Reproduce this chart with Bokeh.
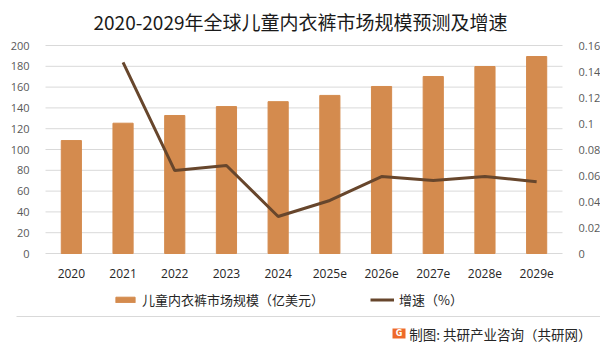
from bokeh.plotting import figure
from bokeh.models import (Range1d, LinearAxis, Legend, LegendItem, Label, BoxAnnotation,
                          CustomJSTickFormatter, FixedTicker)
from bokeh.embed import file_html
from bokeh.resources import INLINE

years = ["2020", "2021", "2022", "2023", "2024", "2025e", "2026e", "2027e", "2028e", "2029e"]
market_size = [108.6, 125.3, 132.7, 141.3, 146.0, 152.0, 160.6, 170.2, 179.8, 189.4]
growth_years = ["2021", "2022", "2023", "2024", "2025e", "2026e", "2027e", "2028e", "2029e"]
growth_rate = [0.147, 0.0638, 0.0677, 0.0285, 0.0408, 0.0592, 0.0562, 0.0592, 0.0552]
left_ticks = [0, 20, 40, 60, 80, 100, 120, 140, 160, 180, 200]
right_ticks = [0, 0.02, 0.04, 0.06, 0.08, 0.1, 0.12, 0.14, 0.16]

title_text = "2020-2029年全球儿童内衣裤市场规模预测及增速"
bar_label = "儿童内衣裤市场规模（亿美元）"
line_label = "增速（%）"
footer_text = "制图: 共研产业咨询（共研网）"

BAR = "#D48B4E"
LINE = "#67462C"
TXT = "#595959"
CJK = "Noto Sans CJK SC"

W, H = 600, 346
PL, PR, PT, PB = 45, 562, 45, 253          # plot-area box in pixels
n = len(years)
cat_px = (PR - PL) / n
y_max, g_max = left_ticks[-1], right_ticks[-1]
py = (PB - PT) / y_max
gy = (PB - PT) / g_max

xpos = {y: i for i, y in enumerate(years)}
bar_x = [xpos[y] for y in years]
line_x = [xpos[y] for y in growth_years]

p = figure(width=W, height=H,
           x_range=Range1d(-0.5 - PL / cat_px, n - 0.5 + (W - PR) / cat_px),
           y_range=Range1d(-(H - PB) / py, y_max + PT / py),
           output_backend="svg", toolbar_location=None,
           min_border=0, min_border_left=0, min_border_right=0,
           min_border_top=0, min_border_bottom=0, x_axis_type=None, y_axis_type=None)
p.outline_line_color = None
p.background_fill_color = "white"
p.border_fill_color = "white"
p.grid.visible = False
p.extra_y_ranges = {"g": Range1d(-(H - PB) / gy, g_max + PT / gy)}

# grid lines across the category span only
p.segment(x0=[-0.5] * len(left_ticks), x1=[n - 0.5] * len(left_ticks),
          y0=left_ticks, y1=left_ticks, line_color="#D9D9D9", line_width=1)

bars = p.vbar(x=bar_x, top=market_size, width=0.39, color=BAR)
line = p.line(x=line_x, y=growth_rate, y_range_name="g", line_color=LINE, line_width=3)

xa = LinearAxis(ticker=FixedTicker(ticks=bar_x), fixed_location=0,
                major_label_overrides={i: y for i, y in enumerate(years)})
la = LinearAxis(ticker=FixedTicker(ticks=left_ticks), fixed_location=-0.5)
ra = LinearAxis(y_range_name="g", ticker=FixedTicker(ticks=right_ticks), fixed_location=n - 0.5,
                formatter=CustomJSTickFormatter(code="return String(parseFloat(tick.toFixed(2)));"))
p.add_layout(xa, "below")
p.add_layout(la, "left")
p.add_layout(ra, "right")

for ax in [xa, la, ra]:
    ax.axis_line_color = None
    ax.major_tick_line_color = None
    ax.minor_tick_line_color = None
    ax.major_label_text_color = TXT
    ax.major_label_text_font = "Open Sans"
    ax.major_label_text_font_size = "11px"
    ax.major_label_standoff = 10
xa.major_label_text_font_size = "12px"
xa.major_label_text_color = "#262626"
xa.major_label_standoff = 9

legend = Legend(items=[LegendItem(label=bar_label, renderers=[bars]),
                       LegendItem(label=line_label, renderers=[line])],
                orientation="horizontal", location=(113, 37),
                glyph_width=24, glyph_height=7, spacing=46, padding=0, margin=0,
                label_text_font=CJK, label_text_font_size="13px", label_text_color="#262626",
                background_fill_alpha=0, border_line_color=None, label_standoff=5)
p.add_layout(legend, "center")

p.add_layout(Label(x=W / 2, y=H - 21, x_units="screen", y_units="screen", text=title_text,
                   text_font=CJK, text_font_size="19px", text_color="#1a1a1a",
                   text_align="center", text_baseline="middle"))

p.add_layout(BoxAnnotation(left=16, right=W, bottom=H - 316.5, top=H - 315.5,
                           left_units="screen", right_units="screen",
                           top_units="screen", bottom_units="screen",
                           fill_color="#D9D9D9", fill_alpha=1, line_color=None))
p.add_layout(BoxAnnotation(left=392, right=405, bottom=H - 338, top=H - 328,
                           left_units="screen", right_units="screen",
                           top_units="screen", bottom_units="screen",
                           fill_color="#EE6A2A", fill_alpha=1, line_color=None))
p.add_layout(Label(x=398.5, y=H - 333, x_units="screen", y_units="screen", text="G",
                   text_font="DejaVu Sans", text_font_style="bold", text_font_size="8px",
                   text_color="white", text_align="center", text_baseline="middle"))
p.add_layout(Label(x=591, y=H - 333, x_units="screen", y_units="screen", text=footer_text,
                   text_font=CJK, text_font_size="13.5px", text_color="#262626",
                   text_align="right", text_baseline="middle"))

open("out.html", "w").write(file_html(p, INLINE))
